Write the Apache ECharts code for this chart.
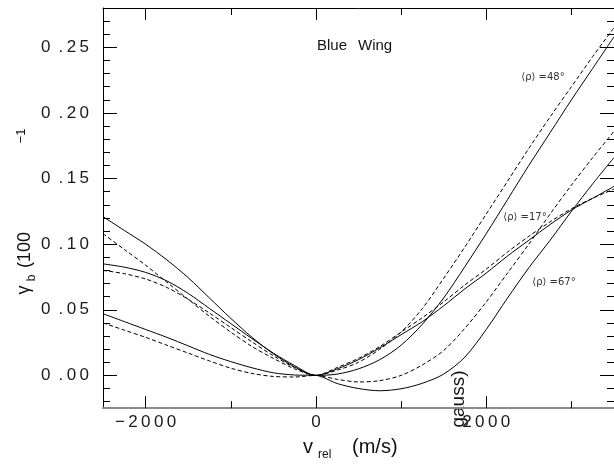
<!DOCTYPE html>
<html>
<head>
<meta charset="utf-8">
<script src="https://cdn.jsdelivr.net/npm/echarts@6/dist/echarts.min.js"></script>
<style>
html,body{margin:0;padding:0;background:#fff;}
#chart{width:614px;height:464px;}
</style>
</head>
<body>
<div id="chart"></div>
<script>
// ---- data ----
const vrel = [-2500, -2250, -2000, -1750, -1500, -1250, -1000, -750, -500, -250, 0,
              250, 500, 750, 1000, 1250, 1500, 1750, 2000, 2250, 2500, 2750, 3000, 3250, 3500];
const rho48Solid  = [0.121, 0.1105, 0.100, 0.088, 0.0745, 0.059, 0.0435, 0.029, 0.0165, 0.0065, 0,
                     0.001, 0.005, 0.012, 0.023, 0.039, 0.059, 0.083, 0.108, 0.134, 0.160, 0.185, 0.210, 0.234, 0.258];
const rho48Dashed = [0.108, 0.096, 0.084, 0.071, 0.058, 0.045, 0.033, 0.022, 0.013, 0.005, 0,
                     0.004, 0.010, 0.020, 0.033, 0.051, 0.074, 0.098, 0.123, 0.148, 0.173, 0.197, 0.220, 0.243, 0.265];
const rho17Solid  = [0.085, 0.0825, 0.0785, 0.072, 0.0625, 0.051, 0.0395, 0.028, 0.017, 0.0075, 0,
                     0.005, 0.012, 0.021, 0.031, 0.041, 0.053, 0.066, 0.078, 0.091, 0.103, 0.115, 0.126, 0.135, 0.144];
const rho17Dashed = [0.080, 0.0775, 0.0735, 0.067, 0.058, 0.0475, 0.0365, 0.0255, 0.015, 0.006, 0,
                     0.006, 0.013, 0.022, 0.033, 0.044, 0.056, 0.069, 0.081, 0.094, 0.106, 0.117, 0.127, 0.135, 0.142];
const rho67Solid  = [0.047, 0.041, 0.035, 0.029, 0.0225, 0.016, 0.0105, 0.0058, 0.002, 0.0003, 0,
                     -0.0062, -0.0100, -0.0117, -0.0102, -0.006, 0.001, 0.014, 0.035, 0.059, 0.082, 0.103, 0.125, 0.146, 0.166];
const rho67Dashed = [0.040, 0.0345, 0.029, 0.023, 0.017, 0.011, 0.0055, 0.0015, -0.0008, -0.0012, 0,
                     -0.003, -0.005, -0.004, 0.000, 0.008, 0.019, 0.036, 0.056, 0.078, 0.100, 0.123, 0.145, 0.166, 0.186];

const xMajorTicks = [-2000, 0, 2000];
const xMinorTicks = [-1000, 1000, 3000];
const yMajorTicks = [0, 0.05, 0.10, 0.15, 0.20, 0.25];
const yMinorTicks = [-0.02, -0.01, 0.01, 0.02, 0.03, 0.04, 0.06, 0.07, 0.08, 0.09,
                     0.11, 0.12, 0.13, 0.14, 0.16, 0.17, 0.18, 0.19, 0.21, 0.22, 0.23, 0.24, 0.26, 0.27];

const curveLabels = ['\u27E8\u03C1\u27E9 =48\u00B0', '\u27E8\u03C1\u27E9 =17\u00B0', '\u27E8\u03C1\u27E9 =67\u00B0'];
const titleText = ['Blue', 'Wing'];

// ---- chart ----
const FONT = "'Liberation Sans', Arial, Helvetica, sans-serif";
const TS = '\u2009';
const chart = echarts.init(document.getElementById('chart'), null, {renderer: 'canvas'});

function pairs(ys) { return vrel.map((x, i) => [x, ys[i]]); }
function fmtX(v) { return String(v).replace('-', '\u2212').split('').join(TS); }
function fmtY(v) {
  const s = Number(v).toFixed(2).split('.');
  return s[0] + TS + ' .' + TS + s[1].split('').join(TS);
}

const XMIN = -2500, XMAX = 3500, YMIN = -0.025, YMAX = 0.28;
function xAx(pos, ticks, len, opts) {
  return Object.assign({
    type: 'value', position: pos, min: XMIN, max: XMAX,
    axisLine: {show: false, onZero: false},
    axisTick: {show: true, inside: true, length: len, customValues: ticks, lineStyle: {color: '#000', width: 1}},
    axisLabel: {show: false},
    splitLine: {show: false}
  }, opts || {});
}
function yAx(pos, ticks, len, opts) {
  return Object.assign({
    type: 'value', position: pos, min: YMIN, max: YMAX,
    axisLine: {show: false, onZero: false},
    axisTick: {show: true, inside: true, length: len, customValues: ticks, lineStyle: {color: '#000', width: 1}},
    axisLabel: {show: false},
    splitLine: {show: false}
  }, opts || {});
}

function line(ys, dashed) {
  return {
    type: 'line', data: pairs(ys), xAxisIndex: 0, yAxisIndex: 0,
    showSymbol: false, symbol: 'none', smooth: 0.3,
    lineStyle: {color: '#000', width: 1, type: dashed ? [4, 2.5] : 'solid'},
    silent: true, animation: false
  };
}

const option = {
  animation: false,
  backgroundColor: '#fff',
  grid: {left: 103, top: 8, width: 515.5, height: 400.2, containLabel: false},
  xAxis: [
    xAx('bottom', xMajorTicks, 12, {
      axisLine: {show: true, onZero: false, lineStyle: {color: '#8a8a8a', width: 2}},
      axisLabel: {show: true, customValues: xMajorTicks, formatter: fmtX, margin: 6,
                  fontSize: 17, fontFamily: FONT, color: '#1a1a1a'}
    }),
    xAx('bottom', xMinorTicks, 7),
    xAx('top', xMajorTicks, 12, {axisLine: {show: true, onZero: false, lineStyle: {color: '#000', width: 1}}}),
    xAx('top', xMinorTicks, 7)
  ],
  yAxis: [
    yAx('left', yMajorTicks, 14, {
      axisLine: {show: true, onZero: false, lineStyle: {color: '#000', width: 1}},
      axisLabel: {show: true, customValues: yMajorTicks, formatter: fmtY, margin: 14,
                  fontSize: 17, fontFamily: FONT, color: '#1a1a1a'}
    }),
    yAx('left', yMinorTicks, 7),
    yAx('right', yMajorTicks, 14, {axisLine: {show: true, onZero: false, lineStyle: {color: '#000', width: 1}}}),
    yAx('right', yMinorTicks, 7)
  ],
  series: [
    line(rho48Solid, false), line(rho48Dashed, true),
    line(rho17Solid, false), line(rho17Dashed, true),
    line(rho67Solid, false), line(rho67Dashed, true)
  ],
  graphic: [
    {type: 'text', x: 317, y: 46, style: {text: titleText[0], fontSize: 15, fontFamily: FONT, fill: '#111', align: 'left', verticalAlign: 'middle'}},
    {type: 'text', x: 358, y: 46, style: {text: titleText[1], fontSize: 15, fontFamily: FONT, fill: '#111', align: 'left', verticalAlign: 'middle'}},
    {type: 'text', x: 543, y: 77, style: {text: curveLabels[0], fontSize: 10, fontFamily: "'DejaVu Sans', sans-serif", fill: '#333', align: 'center', verticalAlign: 'middle'}},
    {type: 'text', x: 525, y: 217, style: {text: curveLabels[1], fontSize: 10, fontFamily: "'DejaVu Sans', sans-serif", fill: '#333', align: 'center', verticalAlign: 'middle'}},
    {type: 'text', x: 554, y: 282, style: {text: curveLabels[2], fontSize: 10, fontFamily: "'DejaVu Sans', sans-serif", fill: '#333', align: 'center', verticalAlign: 'middle'}},
    {type: 'text', x: 303, y: 447, style: {text: 'v', fontSize: 20, fontFamily: FONT, fill: '#111', align: 'left', verticalAlign: 'middle'}},
    {type: 'text', x: 318, y: 455, style: {text: 'rel', fontSize: 12, fontFamily: FONT, fill: '#111', align: 'left', verticalAlign: 'middle'}},
    {type: 'text', x: 352, y: 447, style: {text: '(m/s)', fontSize: 20, fontFamily: FONT, fill: '#111', align: 'left', verticalAlign: 'middle'}},
    {type: 'text', x: 25, y: 250, rotation: Math.PI / 2, style: {text: '(100', fontSize: 18, fontFamily: FONT, fill: '#111', align: 'center', verticalAlign: 'middle'}},
    {type: 'text', x: 24, y: 290, rotation: Math.PI / 2, style: {text: '\u03B3', fontSize: 18, fontFamily: FONT, fill: '#111', align: 'center', verticalAlign: 'middle'}},
    {type: 'text', x: 32, y: 278, rotation: Math.PI / 2, style: {text: 'b', fontSize: 12, fontFamily: FONT, fill: '#111', align: 'center', verticalAlign: 'middle'}},
    {type: 'text', x: 21, y: 136, rotation: Math.PI / 2, style: {text: '\u22121', fontSize: 13, fontFamily: FONT, fill: '#111', align: 'center', verticalAlign: 'middle'}},
    {type: 'text', x: 459, y: 399, rotation: Math.PI / 2, style: {text: 'gauss)', fontSize: 19, fontFamily: FONT, fill: '#111', align: 'center', verticalAlign: 'middle'}}
  ]
};
chart.setOption(option);
</script>
</body>
</html>
